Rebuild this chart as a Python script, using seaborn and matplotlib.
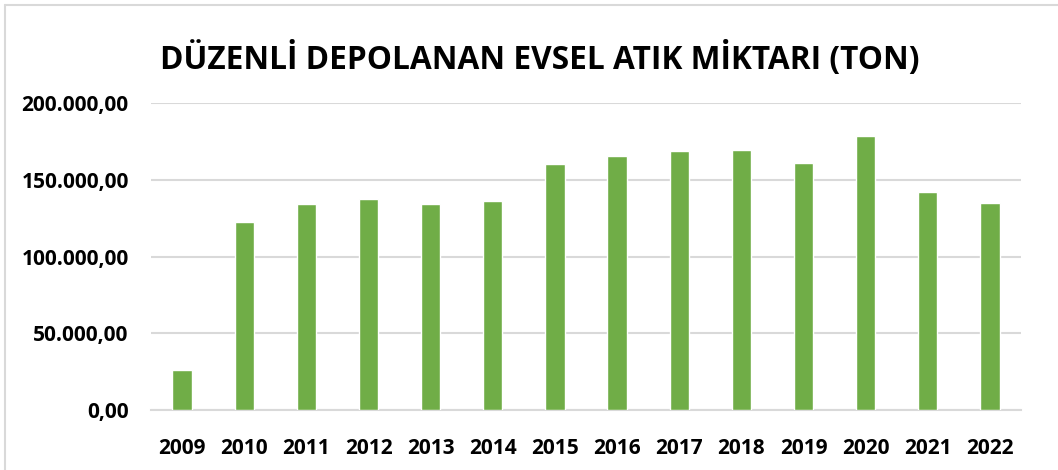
import matplotlib
matplotlib.use("Agg")
import matplotlib.pyplot as plt
import matplotlib.ticker as mticker
import pandas as pd
import seaborn as sns

# yearly values (ton)
years = ["2009", "2010", "2011", "2012", "2013", "2014", "2015",
         "2016", "2017", "2018", "2019", "2020", "2021", "2022"]
tons = [26300, 122700, 134400, 137700, 134400, 136400, 160500,
        165700, 168900, 169600, 161100, 178700, 142200, 135100]
title = "DÜZENLİ DEPOLANAN EVSEL ATIK MİKTARI (TON)"

sns.set_theme(style="white")
plt.rcParams["font.family"] = ["Open Sans", "DejaVu Sans"]
plt.rcParams["font.weight"] = "bold"

df = pd.DataFrame({"yil": years, "ton": tons})

fig = plt.figure(figsize=(10.58, 4.70), dpi=100)
ax = fig.add_axes([151 / 1058, 1 - 410 / 470, 870 / 1058, 307 / 470])

sns.barplot(data=df, x="yil", y="ton", color="#70AD47", saturation=1,
            width=0.31, ax=ax, zorder=3)

ax.set_ylim(0, 200000)
ax.set_yticks([0, 50000, 100000, 150000, 200000])

def tr_fmt(v, pos):
    s = f"{v:,.2f}"
    return s.replace(",", "X").replace(".", ",").replace("X", ".")

ax.yaxis.set_major_formatter(mticker.FuncFormatter(tr_fmt))
ax.grid(axis="y", color="#D9D9D9", linewidth=1.5, zorder=0)
ax.set_xlabel("")
ax.set_ylabel("")
for s in ["top", "right", "left"]:
    ax.spines[s].set_visible(False)
ax.spines["bottom"].set_color("#D9D9D9")
ax.spines["bottom"].set_linewidth(1.5)
ax.tick_params(axis="both", length=0, labelsize=15, labelcolor="black")
ax.tick_params(axis="y", pad=16)
ax.tick_params(axis="x", pad=20)
plt.setp(ax.get_xticklabels() + ax.get_yticklabels(), fontweight="bold")

fig.text(540 / 1058, 1 - 60 / 470, title, ha="center", va="center",
         fontsize=22.8, fontweight="bold", color="black")

# chart frame (only left and top edges show in the crop)
fig.add_artist(plt.Line2D([5 / 1058, 5 / 1058], [0, 1 - 5 / 470],
                          color="#D9D9D9", linewidth=1.5))
fig.add_artist(plt.Line2D([5 / 1058, 1], [1 - 5 / 470, 1 - 5 / 470],
                          color="#D9D9D9", linewidth=1.5))

fig.savefig("out.png", dpi=100)
